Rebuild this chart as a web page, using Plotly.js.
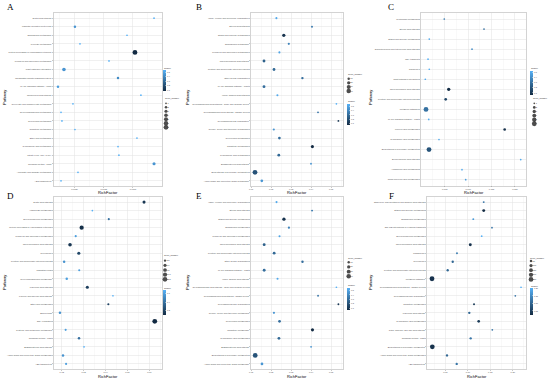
<!DOCTYPE html>
<html><head><meta charset="utf-8">
<script src="https://cdn.plot.ly/plotly-3.0.1.min.js"></script>
<style>html,body{margin:0;padding:0;background:#fff}#chart{width:550px;height:380px}</style>
</head><body><div id="chart"></div>
<script>
// ---------------- DATA ----------------
const pathwaysA = ["Zeatin biosynthesis","Ubiquitin mediated proteolysis","Sphingolipid metabolism","Pyruvate metabolism","Protein processing in endoplasmic reticulum","Porphyrin and chlorophyll metabolism","Plant-pathogen interaction","Phosphatidylinositol signaling system","MAPK signaling pathway - plant","Isoflavonoid biosynthesis","Glyoxylate and dicarboxylate metabolism","Glycerophospholipid metabolism","Glycerolipid metabolism","Galactose metabolism","Ether lipid metabolism","Cyanoamino acid metabolism","Citrate cycle (TCA cycle)","Circadian rhythm - plant","Ascorbate and aldarate metabolism","ABC transporters"];
const richA = [0.01180,0.00504,0.00949,0.00547,0.01017,0.00795,0.00410,0.00872,0.00359,0.01068,0.00487,0.00385,0.00393,0.00504,0.01034,0.00872,0.00880,0.01180,0.00530,0.00385];
const geneA = [1,2,1,1,7,1,4,2,2,1,1,1,1,1,1,1,1,3,1,1];
const qvalA = [0.55,0.45,0.55,0.55,0.08,0.55,0.45,0.42,0.48,0.55,0.55,0.55,0.55,0.55,0.55,0.55,0.55,0.45,0.55,0.55];
const xTicksA = [0.005,0.0075,0.01];
const xLabelsA = ["0.0050","0.0075","0.0100"];
const geneBreaksA = [1,2,3,4,5,6,7];
const geneLabelsA = ["1","2","3","4","5","6","7"];
const qTicksA = [0.1,0.2,0.3,0.4,0.5];
const qLabelsA = ["0.1","0.2","0.3","0.4","0.5"];

const pathwaysB = ["Valine, leucine and isoleucine degradation","Steroid biosynthesis","Starch and sucrose metabolism","Sphingolipid metabolism","Porphyrin and chlorophyll metabolism","Phenylpropanoid biosynthesis","Pentose and glucuronate interconversions","Other glycan degradation","MAPK signaling pathway - plant","Indole alkaloid biosynthesis","Glycosphingolipid biosynthesis - globo and isoglobo series","Glycosphingolipid biosynthesis - ganglio series","Glycosaminoglycan degradation","Glycine, serine and threonine metabolism","Glycerolipid metabolism","Galactose metabolism","Cyanoamino acid metabolism","Brassinosteroid biosynthesis","Biosynthesis of secondary metabolites","Amino sugar and nucleotide sugar metabolism"];
const richB = [0.0227,0.0405,0.0264,0.0289,0.0242,0.0165,0.0215,0.0357,0.0165,0.0232,0.0527,0.0435,0.0537,0.0214,0.0242,0.0407,0.0239,0.0400,0.0120,0.0154];
const geneB = [7,6,20,8,7,15,14,10,15,7,4,5,5,8,13,18,14,5,45,13];
const qvalB = [0.52,0.35,0.08,0.38,0.50,0.25,0.28,0.30,0.30,0.52,0.55,0.33,0.10,0.45,0.30,0.05,0.28,0.45,0.20,0.45];
const xTicksB = [0.01,0.02,0.03,0.04,0.05];
const xLabelsB = ["0.01","0.02","0.03","0.04","0.05"];
const geneBreaksB = [10,20,30,40];
const geneLabelsB = ["10","20","30","40"];
const qTicksB = [0.1,0.2,0.3,0.4,0.5];
const qLabelsB = ["0.1","0.2","0.3","0.4","0.5"];

const pathwaysC = ["Tryptophan metabolism","Steroid biosynthesis","Starch and sucrose metabolism","Sesquiterpenoid and triterpenoid biosynthesis","RNA transport","Ribosome","Plant-pathogen interaction","Phenylpropanoid biosynthesis","Pentose and glucuronate interconversions","Metabolic pathways","MAPK signaling pathway - plant","Linoleic acid metabolism","Cyanoamino acid metabolism","Biosynthesis of secondary metabolites","Benzoxazinoid biosynthesis","Arachidonic acid metabolism","alpha-Linolenic acid metabolism"];
const richC = [0.00491,0.01339,0.00171,0.01083,0.00144,0.00171,0.00086,0.00585,0.00521,0.00101,0.00159,0.01780,0.00378,0.00165,0.02122,0.00869,0.00948];
const geneC = [1,1,1,1,1,1,1,3,2,6,1,2,1,6,1,1,1];
const qvalC = [0.35,0.30,0.50,0.40,0.52,0.52,0.50,0.06,0.15,0.30,0.50,0.08,0.50,0.20,0.50,0.50,0.45];
const xTicksC = [0.005,0.010,0.015,0.020];
const xLabelsC = ["0.005","0.010","0.015","0.020"];
const geneBreaksC = [1,2,3,4,5,6];
const geneLabelsC = ["1","2","3","4","5","6"];
const qTicksC = [0.1,0.2,0.3,0.4,0.5];
const qLabelsC = ["0.1","0.2","0.3","0.4","0.5"];

const pathwaysD = ["Zeatin biosynthesis","Vitamin B6 metabolism","Selenocompound metabolism","Protein processing in endoplasmic reticulum","Porphyrin and chlorophyll metabolism","Phenylpropanoid biosynthesis","Peroxisome","Pentose and glucuronate interconversions","Mismatch repair","Glycerophospholipid metabolism","Flavonoid biosynthesis","Flavone and flavonol biosynthesis","Ether lipid metabolism","Endocytosis","DNA replication","Cysteine and methionine metabolism","Circadian rhythm - plant","Brassinosteroid biosynthesis","Amino sugar and nucleotide sugar metabolism","ABC transporters"];
const richD = [0.0576,0.0340,0.0415,0.0291,0.0264,0.0238,0.0278,0.0211,0.0280,0.0223,0.0317,0.0434,0.0413,0.0192,0.0625,0.0218,0.0279,0.0302,0.0206,0.0220];
const geneD = [5,1,2,10,2,7,5,3,2,3,5,1,2,3,13,2,3,1,3,2];
const qvalD = [0.15,0.68,0.40,0.12,0.60,0.15,0.22,0.55,0.60,0.60,0.18,0.68,0.20,0.55,0.10,0.60,0.40,0.68,0.55,0.60];
const xTicksD = [0.02,0.03,0.04,0.05,0.06];
const xLabelsD = ["0.02","0.03","0.04","0.05","0.06"];
const geneBreaksD = [2.5,5,7.5,10,12.5];
const geneLabelsD = ["2.5","5.0","7.5","10.0","12.5"];
const qTicksD = [0.2,0.4,0.6];
const qLabelsD = ["0.2","0.4","0.6"];

const pathwaysE = ["Valine, leucine and isoleucine degradation","Steroid biosynthesis","Starch and sucrose metabolism","Sphingolipid metabolism","Porphyrin and chlorophyll metabolism","Phenylpropanoid biosynthesis","Pentose and glucuronate interconversions","Other glycan degradation","MAPK signaling pathway - plant","Indole alkaloid biosynthesis","Glycosphingolipid biosynthesis - globo and isoglobo series","Glycosphingolipid biosynthesis - ganglio series","Glycosaminoglycan degradation","Glycine, serine and threonine metabolism","Glycerolipid metabolism","Galactose metabolism","Cyanoamino acid metabolism","Brassinosteroid biosynthesis","Biosynthesis of secondary metabolites","Amino sugar and nucleotide sugar metabolism"];
const richE = [0.0227,0.0405,0.0264,0.0289,0.0242,0.0165,0.0215,0.0357,0.0165,0.0232,0.0527,0.0435,0.0537,0.0214,0.0242,0.0407,0.0239,0.0400,0.0120,0.0154];
const geneE = [7,6,20,8,7,15,14,10,15,7,4,5,5,8,13,18,14,5,45,13];
const qvalE = [0.52,0.35,0.08,0.38,0.50,0.25,0.28,0.30,0.30,0.52,0.55,0.33,0.10,0.45,0.30,0.05,0.28,0.45,0.20,0.45];
const xTicksE = [0.01,0.02,0.03,0.04,0.05];
const xLabelsE = ["0.01","0.02","0.03","0.04","0.05"];
const geneBreaksE = [10,20,30,40];
const geneLabelsE = ["10","20","30","40"];
const qTicksE = [0.1,0.2,0.3,0.4,0.5];
const qLabelsE = ["0.1","0.2","0.3","0.4","0.5"];

const pathwaysF = ["Stilbenoid, diarylheptanoid and gingerol biosynthesis","Starch and sucrose metabolism","Sphingolipid metabolism","SNARE interactions in vesicular transport","Selenocompound metabolism","Phenylpropanoid biosynthesis","Phagosome","Peroxisome","Pentose and glucuronate interconversions","Metabolic pathways","Glycosphingolipid biosynthesis - ganglio series","Glycosaminoglycan degradation","Galactose metabolism","Flavonoid biosynthesis","Cyanoamino acid metabolism","Cutin, suberine and wax biosynthesis","Circadian rhythm - plant","Biosynthesis of secondary metabolites","Amino sugar and nucleotide sugar metabolism","ABC transporters"];
const richF = [0.1355,0.1355,0.1123,0.1539,0.1310,0.1056,0.0760,0.0665,0.0553,0.0204,0.2185,0.2058,0.1139,0.1034,0.1243,0.1546,0.1065,0.0211,0.0538,0.0754];
const geneF = [20,80,20,10,10,80,20,40,40,260,8,10,20,40,60,10,40,250,40,40];
const qvalF = [0.12,0.02,0.17,0.12,0.20,0.03,0.13,0.10,0.10,0.03,0.20,0.12,0.04,0.10,0.04,0.12,0.12,0.03,0.10,0.12];
const xTicksF = [0.05,0.10,0.15,0.20];
const xLabelsF = ["0.05","0.10","0.15","0.20"];
const geneBreaksF = [50,100,150,200,250];
const geneLabelsF = ["50","100","150","200","250"];
const qTicksF = [0.05,0.10,0.15,0.20];
const qLabelsF = ["0.05","0.10","0.15","0.20"];

// ---------------- LAYOUT / STYLE ----------------
const W = 550, H = 380;
const LOW = '#132B43', HIGH = '#56B1F7';
const FONT = 'Liberation Sans, Arial, sans-serif';
const SMIN = 1.7, SMAX = 4.8;
const TXT = '#4d4d4d';

function sz(g, lo, hi) {
  const t = hi > lo ? (g - lo) / (hi - lo) : 1;
  return Math.sqrt(SMIN * SMIN + (SMAX * SMAX - SMIN * SMIN) * Math.max(0, Math.min(1, t)));
}

const panels = [
  {letter:'A', names:pathwaysA, rich:richA, gene:geneA, q:qvalA, xt:xTicksA, xl:xLabelsA, gb:geneBreaksA, gl:geneLabelsA, qt:qTicksA, ql:qLabelsA,
   range:[0.00319,0.01248], g:{L:53.3,R:162,T:13,B:186}, leg:{x:164,ty:98.5,y0:103.3,dy:4}, cb:{x:163.3,y:70,len:20.7,ty:67.7}, pw:{x:4,y:98}, rf:{x:107.6,y:192}, lt:{x:6,y:7}},
  {letter:'B', names:pathwaysB, rich:richB, gene:geneB, q:qvalB, xt:xTicksB, xl:xLabelsB, gb:geneBreaksB, gl:geneLabelsB, qt:qTicksB, ql:qLabelsB,
   range:[0.0099,0.0560], g:{L:250.8,R:343,T:13,B:186}, leg:{x:346.7,ty:74.3,y0:78.7,dy:4.1}, cb:{x:347,y:104.3,len:21.4,ty:101}, pw:{x:187,y:98}, rf:{x:297,y:192}, lt:{x:195,y:7}},
  {letter:'C', names:pathwaysC, rich:richC, gene:geneC, q:qvalC, xt:xTicksC, xl:xLabelsC, gb:geneBreaksC, gl:geneLabelsC, qt:qTicksC, ql:qLabelsC,
   range:[-0.00006,0.02235], g:{L:421,R:526,T:13,B:185.7}, leg:{x:532.3,ty:98.3,y0:103.3,dy:4.1}, cb:{x:530,y:71,len:24,ty:68.3}, pw:{x:370,y:98}, rf:{x:473.5,y:192}, lt:{x:387,y:7}},
  {letter:'D', names:pathwaysD, rich:richD, gene:geneD, q:qvalD, xt:xTicksD, xl:xLabelsD, gb:geneBreaksD, gl:geneLabelsD, qt:qTicksD, ql:qLabelsD,
   range:[0.01648,0.0658], g:{L:54,R:162,T:197,B:369}, leg:{x:163,ty:255,y0:260.7,dy:4.65}, cb:{x:163.3,y:290,len:25,ty:287.5}, pw:{x:4,y:283}, rf:{x:108,y:376}, lt:{x:6,y:196}},
  {letter:'E', names:pathwaysE, rich:richE, gene:geneE, q:qvalE, xt:xTicksE, xl:xLabelsE, gb:geneBreaksE, gl:geneLabelsE, qt:qTicksE, ql:qLabelsE,
   range:[0.0099,0.0560], g:{L:251,R:343,T:197,B:369}, leg:{x:346.7,ty:258.3,y0:262.3,dy:4.67}, cb:{x:347,y:288.3,len:21.7,ty:285}, pw:{x:187,y:283}, rf:{x:297,y:376}, lt:{x:195,y:196}},
  {letter:'F', names:pathwaysF, rich:richF, gene:geneF, q:qvalF, xt:xTicksF, xl:xLabelsF, gb:geneBreaksF, gl:geneLabelsF, qt:qTicksF, ql:qLabelsF,
   range:[0.00928,0.22957], g:{L:427,R:526,T:197,B:369}, leg:{x:529,ty:258.3,y0:261,dy:4.6}, cb:{x:530,y:288.3,len:26.7,ty:285.5}, pw:{x:370,y:283}, rf:{x:476.5,y:376}, lt:{x:388,y:196}}
];

const data = [];
const annotations = [];
const layout = {
  width: W, height: H, margin: {l:0, r:0, t:0, b:0},
  paper_bgcolor: '#ffffff', plot_bgcolor: '#ffffff',
  showlegend: false, font: {family: FONT, color: TXT},
  annotations: annotations
};

function ann(text, x, y, opts) {
  annotations.push(Object.assign({text: text, x: x / W, y: 1 - y / H, xref: 'paper', yref: 'paper',
    showarrow: false, xanchor: 'left', yanchor: 'middle', borderpad: 0,
    font: {family: FONT, size: 2.2, color: '#222'}}, opts || {}));
}

panels.forEach((p, i) => {
  const k = i + 1;
  const ax = k === 1 ? '' : String(k);
  const la = String(k + 6);
  const n = p.names.length;
  const lo = Math.min(...p.gene), hi = Math.max(...p.gene);
  const qmin = Math.min(...p.q), qmax = Math.max(...p.q);
  const ca = 'coloraxis' + ax;
  const step = p.xt[1] - p.xt[0];
  const minorVals = [p.xt[0] - step / 2].concat(p.xt.map(v => v + step / 2));

  data.push({
    type: 'scatter', mode: 'markers', x: p.rich, y: p.names,
    xaxis: 'x' + ax, yaxis: 'y' + ax, cliponaxis: false,
    marker: {size: p.gene.map(g => sz(g, lo, hi)), color: p.q, coloraxis: ca, line: {width: 0}, opacity: 1},
    hoverinfo: 'skip'
  });

  layout['xaxis' + ax] = {
    domain: [p.g.L / W, p.g.R / W], anchor: 'y' + ax, range: p.range,
    tickmode: 'array', tickvals: p.xt, ticktext: p.xl,
    showline: true, mirror: true, linecolor: '#b5b5b5', linewidth: 0.6,
    showgrid: true, gridcolor: '#e1e1e1', gridwidth: 0.5, zeroline: false,
    ticks: 'outside', ticklen: 1, tickwidth: 0.4, tickcolor: '#777',
    tickfont: {family: FONT, size: 2.2, color: TXT},
    minor: {tickmode: 'array', tickvals: minorVals, showgrid: true, gridcolor: '#efefef', gridwidth: 0.4, ticks: ''},
    fixedrange: true
  };
  layout['yaxis' + ax] = {
    domain: [1 - p.g.B / H, 1 - p.g.T / H], anchor: 'x' + ax,
    type: 'category', categoryorder: 'array', categoryarray: p.names.slice().reverse(),
    range: [-0.6, n - 0.4],
    showline: true, mirror: true, linecolor: '#b5b5b5', linewidth: 0.6,
    showgrid: true, gridcolor: '#e1e1e1', gridwidth: 0.5, zeroline: false,
    ticks: 'outside', ticklen: 1, tickwidth: 0.4, tickcolor: '#777',
    tickfont: {family: FONT, size: 2.2, color: TXT},
    fixedrange: true
  };
  layout[ca] = {
    cmin: qmin, cmax: qmax, colorscale: [[0, LOW], [1, HIGH]],
    colorbar: {
      x: p.cb.x / W, xanchor: 'left', y: 1 - p.cb.y / H, yanchor: 'top',
      len: p.cb.len, lenmode: 'pixels', thickness: 3.4, thicknessmode: 'pixels',
      xpad: 0, ypad: 0, outlinewidth: 0, borderwidth: 0,
      tickmode: 'array', tickvals: p.qt, ticktext: p.ql,
      ticks: 'inside', ticklen: 1, tickwidth: 0.4, tickcolor: '#ffffff',
      tickfont: {family: FONT, size: 2.1, color: TXT},
      title: {text: ''}
    }
  };

  // size legend (Gene_number) drawn on an auxiliary hidden axis pair
  const m = p.gb.length;
  layout['xaxis' + la] = {domain: [p.leg.x / W, (p.leg.x + 18) / W], range: [0, 18], visible: false, anchor: 'y' + la, fixedrange: true};
  layout['yaxis' + la] = {domain: [1 - (p.leg.y0 + (m - 0.5) * p.leg.dy) / H, 1 - (p.leg.y0 - 0.5 * p.leg.dy) / H],
    range: [m - 0.5, -0.5], visible: false, anchor: 'x' + la, fixedrange: true};
  data.push({
    type: 'scatter', mode: 'markers', xaxis: 'x' + la, yaxis: 'y' + la, cliponaxis: false,
    x: p.gb.map(() => 2), y: p.gb.map((_, j) => j),
    marker: {size: p.gb.map(b => sz(b, lo, hi)), color: '#000000', line: {width: 0}},
    hoverinfo: 'skip'
  });
  data.push({
    type: 'scatter', mode: 'text', xaxis: 'x' + la, yaxis: 'y' + la, cliponaxis: false,
    x: p.gb.map(() => 3.6), y: p.gb.map((_, j) => j), text: p.gl,
    textposition: 'middle right', textfont: {family: FONT, size: 2.1, color: '#333'},
    hoverinfo: 'skip'
  });

  // text elements
  ann('Gene_number', p.leg.x, p.leg.ty);
  ann('Qvalue', p.cb.x, p.cb.ty);
  ann(p.letter, p.lt.x, p.lt.y, {font: {family: 'Liberation Serif, Times New Roman, serif', size: 9, color: '#000'}});
  ann('Pathway', p.pw.x, p.pw.y, {xanchor: 'center', textangle: -90, font: {family: FONT, size: 4, color: '#000'}});
  ann('RichFactor', p.rf.x, p.rf.y, {xanchor: 'center', font: {family: FONT, size: 4, color: '#000'}});
});

Plotly.newPlot('chart', data, layout, {staticPlot: true, displayModeBar: false});
</script></body></html>
